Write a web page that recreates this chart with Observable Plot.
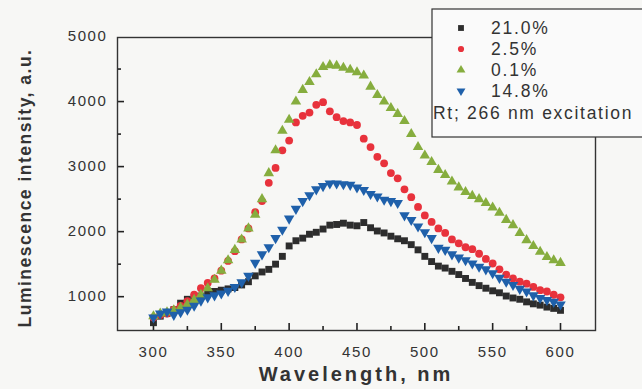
<!DOCTYPE html>
<html>
<head>
<meta charset="utf-8">
<script src="https://cdn.jsdelivr.net/npm/d3@7"></script>
<script src="https://cdn.jsdelivr.net/npm/@observablehq/plot@0.6"></script>
<style>
  html, body { margin: 0; padding: 0; background: #f7f7f5; overflow: hidden; width: 642px; height: 389px; }
  #chart { position: relative; width: 642px; height: 389px; overflow: hidden; }
  svg { font-family: Arial, "Liberation Sans", sans-serif; display: block; }
</style>
</head>
<body>
<div id="chart"></div>
<script>
// Wavelength grid (nm)
const wavelengths = [300,305,310,315,320,325,330,335,340,345,350,355,360,365,370,375,380,385,390,395,
  400,405,410,415,420,425,430,435,440,445,450,455,460,465,470,475,480,485,490,495,
  500,505,510,515,520,525,530,535,540,545,550,555,560,565,570,575,580,585,590,595,600];

const seriesNames = ["21.0%", "2.5%", "0.1%", "14.8%"];
const seriesColors = ["#2d2d2d", "#e8323c", "#86ad3e", "#1f60aa"];
const seriesSymbols = ["square", "circle", "triangle", "triangle"];
const seriesRotate = [0, 0, 0, 180];

const black21 = [600,700,740,800,900,960,990,1010,1050,1080,1100,1120,1140,1180,1230,1320,1380,1420,1500,1620,
  1780,1860,1900,1960,1990,2040,2100,2110,2130,2100,2090,2140,2060,2010,1980,1930,1890,1860,1800,1720,
  1620,1540,1470,1440,1390,1340,1280,1220,1170,1130,1090,1060,1010,980,960,920,890,870,840,820,790];

const red25 = [680,720,740,800,860,930,1030,1130,1210,1280,1400,1550,1700,1880,2050,2300,2470,2750,2980,3250,
  3400,3680,3780,3830,3950,3990,3850,3760,3700,3680,3640,3430,3300,3150,3050,2900,2820,2650,2530,2380,
  2250,2150,2050,1980,1880,1820,1760,1730,1660,1580,1510,1420,1340,1280,1230,1200,1150,1100,1080,1030,990];

const green01 = [700,740,760,790,830,880,950,1030,1130,1260,1400,1560,1720,1880,2050,2260,2500,2900,3250,3550,
  3720,4000,4180,4300,4420,4530,4560,4550,4520,4490,4450,4400,4230,4100,4000,3900,3810,3700,3500,3300,
  3170,3070,2950,2870,2770,2680,2610,2550,2500,2440,2370,2290,2180,2100,1980,1870,1780,1690,1610,1560,1520];

const blue148 = [680,740,770,720,760,800,860,940,990,1020,1050,1090,1150,1220,1320,1520,1650,1760,1900,2030,
  2200,2350,2470,2560,2650,2700,2740,2740,2730,2720,2680,2640,2580,2540,2490,2470,2440,2250,2180,2080,
  1990,1900,1750,1720,1650,1600,1560,1510,1460,1420,1360,1290,1230,1180,1120,1080,1020,980,950,920,880];

const seriesValues = [black21, red25, green01, blue148];

const xMajor = [300, 350, 400, 450, 500, 550, 600];
const xMinor = [325, 375, 425, 475, 525, 575];
const yMajor = [1000, 2000, 3000, 4000, 5000];
const yMinor = [1500, 2500, 3500, 4500];

const data = [];
seriesNames.forEach((name, i) => {
  wavelengths.forEach((w, j) => data.push({series: name, w, v: seriesValues[i][j]}));
});

const W = 642, H = 389, mL = 117, mR = 47, mT = 37, mB = 59;
const frameW = W - mL - mR, frameH = H - mT - mB;

const plot = Plot.plot({
  width: W,
  height: H,
  marginLeft: mL,
  marginRight: mR,
  marginTop: mT,
  marginBottom: mB,
  style: {background: "transparent", color: "#333", fontFamily: "Arial, 'Liberation Sans', sans-serif", overflow: "hidden"},
  x: {domain: [273.5, 625.8]},
  y: {domain: [480, 4985]},
  marks: [
    Plot.axisX({ticks: xMajor, tickSize: 0, tickPadding: 16, fontSize: 15, fill: "#333", label: null, tickFormat: "d"}),
    Plot.axisY({ticks: yMajor, tickSize: 0, tickPadding: 10, fontSize: 15, fill: "#333", label: null, tickFormat: "d"}),
    // inward ticks
    Plot.tickX(xMajor, {x: d => d, insetTop: frameH - 7, stroke: "#222", strokeWidth: 1.6}),
    Plot.tickX(xMinor, {x: d => d, insetTop: frameH - 4, stroke: "#222", strokeWidth: 1.6}),
    Plot.tickY(yMajor.filter(d => d < 4985), {y: d => d, insetRight: frameW - 7, stroke: "#222", strokeWidth: 1.6}),
    Plot.tickY(yMinor, {y: d => d, insetRight: frameW - 4, stroke: "#222", strokeWidth: 1.6}),
    Plot.frame({stroke: "#333", strokeWidth: 1.4}),
    ...seriesNames.map((name, i) =>
      Plot.dot(data.filter(d => d.series === name), {
        x: "w", y: "v",
        symbol: seriesSymbols[i],
        rotate: seriesRotate[i],
        r: 3.9,
        fill: seriesColors[i],
        stroke: "none"
      })
    )
  ]
});

const svg = d3.select(plot);
svg.selectAll("g[aria-label='x-axis tick label'] text, g[aria-label='y-axis tick label'] text")
  .attr("letter-spacing", "1.6px");

// Axis titles
svg.append("text")
  .attr("x", 356).attr("y", 381)
  .attr("text-anchor", "middle")
  .attr("font-size", 20).attr("font-weight", "bold")
  .attr("letter-spacing", "3px")
  .attr("fill", "#333")
  .text("Wavelength, nm");

svg.append("text")
  .attr("transform", "translate(31,188) rotate(-90)")
  .attr("text-anchor", "middle")
  .attr("font-size", 17.5).attr("font-weight", "bold")
  .attr("letter-spacing", "1.5px")
  .attr("fill", "#333")
  .text("Luminescence intensity, a.u.");

// Legend box
const lg = svg.append("g").attr("text-anchor", "start");
lg.append("rect").attr("x", 432).attr("y", 9).attr("width", 400).attr("height", 128)
  .attr("fill", "#fafafa").attr("stroke", "#333").attr("stroke-width", 1.2);
const legendY = [28, 49, 70, 91];
seriesNames.forEach((name, i) => {
  const sym = d3.symbol().type([d3.symbolSquare, d3.symbolCircle, d3.symbolTriangle, d3.symbolTriangle][i]).size(i === 1 ? 30 : 34);
  lg.append("path").attr("d", sym())
    .attr("transform", `translate(461,${legendY[i]})` + (i === 3 ? " rotate(180)" : ""))
    .attr("fill", seriesColors[i]);
  lg.append("text").attr("x", 491).attr("y", legendY[i] + 6)
    .attr("text-anchor", "start")
    .attr("font-size", 17.5).attr("letter-spacing", "1.8px").attr("fill", "#333")
    .text(name);
});
lg.append("text").attr("x", 433).attr("y", 119)
  .attr("text-anchor", "start")
  .attr("font-size", 17.5).attr("letter-spacing", "1.7px").attr("fill", "#333")
  .text("Rt; 266 nm excitation");

document.getElementById("chart").appendChild(plot);
</script>
</body>
</html>
